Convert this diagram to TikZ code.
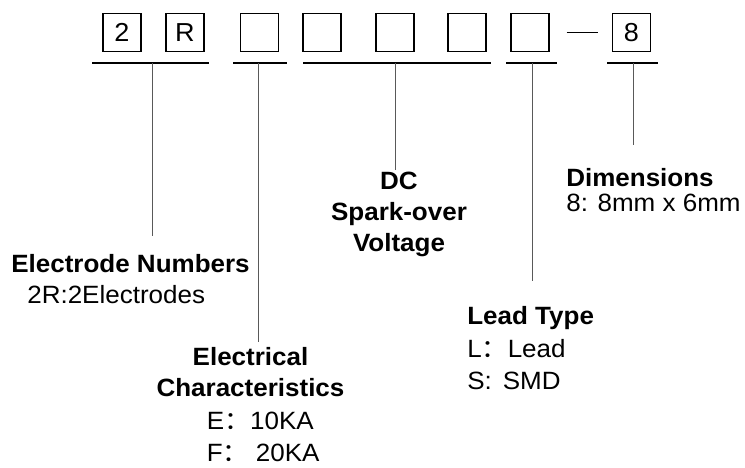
\documentclass[tikz,border=0pt]{standalone}
\usepackage{fontspec}
\setmainfont[FakeStretch=1.04]{Liberation Sans}
\newfontfamily\cjkfont[FakeStretch=1.04]{Noto Sans CJK SC}
\usetikzlibrary{positioning}
\newcommand{\fwcolon}{{\cjkfont ：}}

\begin{document}
\begin{tikzpicture}[x=1pt, y=-1pt, semithick]
    \tikzstyle{digit}=[
        draw = black,
        line width = 1.3pt,
        minimum size = 38pt,
        inner sep = 0pt,
        font = \fontsize{26}{30}\selectfont
    ]
    \tikzstyle{bar}=[draw=black, line width=1.7pt]
    \tikzstyle{lead}=[draw=black!65, line width=1pt]
    \tikzstyle{head}=[inner sep=0pt, align=center, font=\fontsize{25}{31}\selectfont\bfseries]
    \tikzstyle{info}=[inner sep=0pt, align=left, font=\fontsize{25}{32}\selectfont]
    \useasboundingbox (0,0) rectangle (745,467);

    % code boxes
    \node (a) [digit] at (122,32.5) {2};
    \node (b) [digit, right=23.7pt of a] {R};
    \node (c) [digit, right=35.2pt of b] {};
    \node (d) [digit, right=23.2pt of c] {};
    \node (e) [digit, right=33.7pt of d] {};
    \node (f) [digit, right=32.7pt of e] {};
    \node (g) [digit, right=23.7pt of f] {};
    \node (h) [digit, right=62.2pt of g] {8};
    \draw[line width=1.3pt] ([xshift=17pt]g.east) -- ([xshift=-14pt]h.west);

    % brackets under the groups
    \draw[bar] (92,63) -- (209,63);
    \draw[bar] (233,63) -- (287,63);
    \draw[bar] (303,63) -- (491,63);
    \draw[bar] (506,63) -- (557,63);
    \draw[bar] (607,63) -- (658,63);

    \coordinate (m1) at (152,63);  \coordinate (t1) at (152,236);
    \coordinate (m2) at (258,63);  \coordinate (t2) at (258,342);
    \coordinate (m3) at (395,63);  \coordinate (t3) at (395,170);
    \coordinate (m4) at (532,63);  \coordinate (t4) at (532,281);
    \coordinate (m5) at (633,63);  \coordinate (t5) at (633,145);

    % labels
    \node (en) [info, anchor=north west, font=\fontsize{25}{31}\selectfont]
        at (11,254.5) {\textbf{Electrode Numbers}\\\hspace*{16pt}2R:2Electrodes};
    \node (ec) [head, anchor=north] at (250.5,347.5) {Electrical\\Characteristics};
    \node (ev) [info, anchor=north west] at (206.5,411.5) {E\fwcolon 10KA\\F\fwcolon\ 20KA};
    \node (dc) [head, anchor=north] at (399,172) {DC\\Spark-over\\Voltage};
    \node (lt) [info, anchor=north west, font=\fontsize{25}{32.5}\selectfont]
        at (467,306.5) {\textbf{Lead Type}\\L\fwcolon Lead\\S:\hspace{11pt}SMD};
    \node (dm) [info, anchor=north west, font=\fontsize{25}{24.5}\selectfont]
        at (566,168.5) {\textbf{Dimensions}\\8: 8mm x 6mm};

    \path[lead] (m1) edge (t1)
                (m2) edge (t2)
                (m3) edge (t3)
                (m4) edge (t4)
                (m5) edge (t5);
\end{tikzpicture}
\end{document}
